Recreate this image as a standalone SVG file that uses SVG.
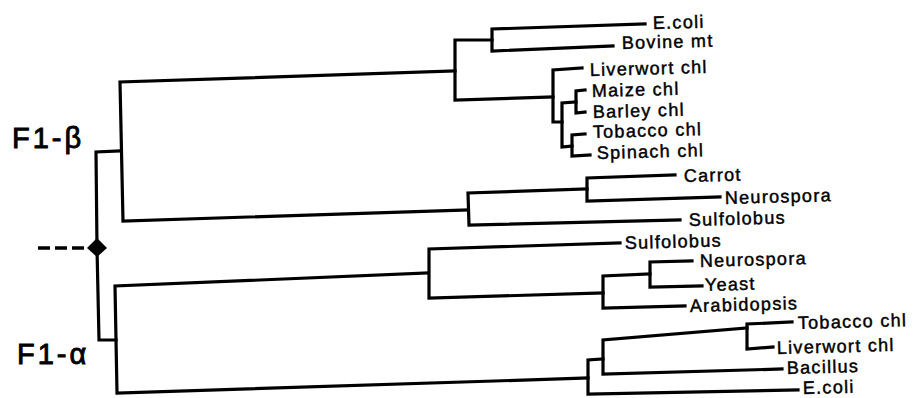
<svg xmlns="http://www.w3.org/2000/svg" width="915" height="398" viewBox="0 0 915 398">
<style>
.e{fill:none;stroke:#000;stroke-width:3.2;stroke-linecap:square;stroke-linejoin:miter}
.d{fill:none;stroke:#000;stroke-width:3.5;stroke-dasharray:12 5}
.t{font-family:"Liberation Sans",Arial,sans-serif;font-size:18px;letter-spacing:1.3px;fill:#000;stroke:#000;stroke-width:0.45}
.g{font-family:"Liberation Sans",Arial,sans-serif;font-size:29px;letter-spacing:3px;fill:#000;stroke:#000;stroke-width:0.9}
</style>
<rect width="915" height="398" fill="#fff"/>
<g id="connectors">
<path class="d" d="M38,248 H86"/>
<path class="e" d="M97,248 L96,152 L119,151"/>
<path class="e" d="M455,71 L120,82 L123,221 L468,210"/>
<path class="e" d="M492,40 L455,40 L455,100 L553,97"/>
<path class="e" d="M645,24 L492,29 L492,51 L613,46"/>
<path class="e" d="M582,68 L553,70 L553,122 L562,122"/>
<path class="e" d="M576,102 L562,103 L562,147 L572,146"/>
<path class="e" d="M585,90 L576,91 L576,113 L585,112"/>
<path class="e" d="M585,134 L572,135 L572,156 L590,155"/>
<path class="e" d="M587,189 L468,193 L469,225 L680,220"/>
<path class="e" d="M675,175 L587,178 L587,201 L720,197"/>
<path class="e" d="M97,248 L99,340 L116,340"/>
<path class="e" d="M428,273 L115,286 L117,393 L588,378"/>
<path class="e" d="M620,243 L429,249 L429,298 L603,293"/>
<path class="e" d="M650,274 L603,276 L603,308 L685,306"/>
<path class="e" d="M692,261 L650,262 L650,287 L702,286"/>
<path class="e" d="M603,359 L588,360 L588,394 L798,390"/>
<path class="e" d="M747,328 L603,340 L603,374 L782,369"/>
<path class="e" d="M792,322 L747,324 L747,349 L773,347"/>
</g>
<g id="root"><path d="M97,238 L107,248 L97,257 L87,248 Z" fill="#000"/></g>
<g id="f1b"><text class="g" x="12" y="148">F1-β</text></g>
<g id="f1a"><text class="g" x="17" y="364">F1-α</text></g>
<g id="ecoli-b"><text class="t" x="653" y="29" transform="rotate(-1.5 653 29)">E.coli</text></g>
<g id="bovine"><text class="t" x="622" y="49" transform="rotate(-1.5 622 49)">Bovine mt</text></g>
<g id="liverwort-b"><text class="t" x="590" y="76" transform="rotate(-1.5 590 76)">Liverwort chl</text></g>
<g id="maize"><text class="t" x="592" y="97" transform="rotate(-1.5 592 97)">Maize chl</text></g>
<g id="barley"><text class="t" x="593" y="118" transform="rotate(-1.5 593 118)">Barley chl</text></g>
<g id="tobacco-b"><text class="t" x="593" y="138" transform="rotate(-1.5 593 138)">Tobacco chl</text></g>
<g id="spinach"><text class="t" x="597" y="159" transform="rotate(-1.5 597 159)">Spinach chl</text></g>
<g id="carrot"><text class="t" x="684" y="182" transform="rotate(-1.5 684 182)">Carrot</text></g>
<g id="neurospora-b"><text class="t" x="725" y="204" transform="rotate(-1.5 725 204)">Neurospora</text></g>
<g id="sulfolobus-b"><text class="t" x="689" y="226" transform="rotate(-1.5 689 226)">Sulfolobus</text></g>
<g id="sulfolobus-a"><text class="t" x="625" y="249" transform="rotate(-1.5 625 249)">Sulfolobus</text></g>
<g id="neurospora-a"><text class="t" x="700" y="267" transform="rotate(-1.5 700 267)">Neurospora</text></g>
<g id="yeast"><text class="t" x="705" y="291" transform="rotate(-1.5 705 291)">Yeast</text></g>
<g id="arabidopsis"><text class="t" x="690" y="312" transform="rotate(-1.5 690 312)">Arabidopsis</text></g>
<g id="tobacco-a"><text class="t" x="798" y="329" transform="rotate(-1.5 798 329)">Tobacco chl</text></g>
<g id="liverwort-a"><text class="t" x="777" y="354" transform="rotate(-1.5 777 354)">Liverwort chl</text></g>
<g id="bacillus"><text class="t" x="787" y="374" transform="rotate(-1.5 787 374)">Bacillus</text></g>
<g id="ecoli-a"><text class="t" x="803" y="394" transform="rotate(-1.5 803 394)">E.coli</text></g>
</svg>
